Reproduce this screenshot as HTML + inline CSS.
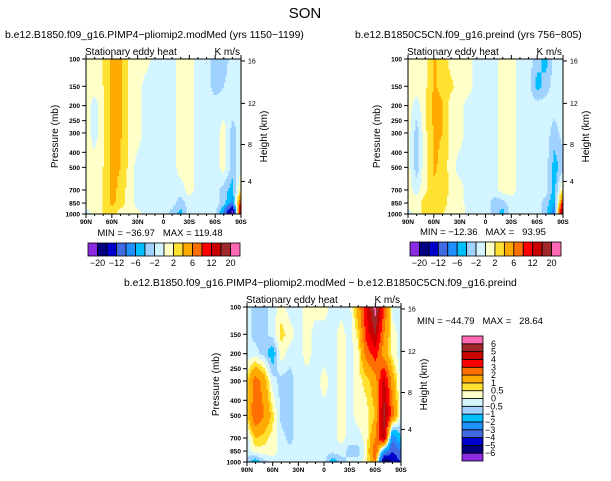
<!DOCTYPE html>
<html><head><meta charset="utf-8">
<style>
html,body{margin:0;padding:0;background:#fff;}
svg{display:block;font-family:"Liberation Sans",sans-serif;}
</style></head>
<body>
<svg id="fig" width="611" height="481" viewBox="0 0 611 481" xmlns="http://www.w3.org/2000/svg">
<rect width="611" height="481" fill="#fff"/>
<text x="305" y="18" text-anchor="middle" font-size="15">SON</text>
</svg>
<script>
// ---- data ----
const lats = [90,80,70,60,50,40,30,20,10,0,-10,-20,-30,-40,-50,-60,-70,-80,-90];
const levels = [100,150,200,300,500,700,850,1000];
const pTicks = [100,150,200,250,300,400,500,700,850,1000];
const hTicks = [4,8,12,16];
const latTicks = [90,60,30,0,-30,-60,-90];
const latTickLabels = ["90N","60N","30N","0","30S","60S","90S"];
const bounds1 = [-20,-16,-12,-8,-6,-4,-2,0,2,4,6,8,12,16,20];
const boundLabels1 = ["-20","","-12","","-6","","-2","","2","","6","","12","","20"];
const bounds2 = [-6,-5,-4,-3,-2,-1,-0.5,0,0.5,1,2,3,4,5,6];
const boundLabels2 = ["-6","-5","-4","-3","-2","-1","-0.5","0","0.5","1","2","3","4","5","6"];
const colors = ["#8a2be2","#000080","#0000cd","#4169e1","#1e90ff","#00bfff","#a0d2ff","#d2f5ff","#ffffc8","#ffe132","#ffaa00","#ff6e00","#ff0000","#c80000","#a02828","#ff69b4"];
const fieldA = [
 [1,1,2,4.6,4.3,1.5,1,1,-1,-1,-1,1,1,-1,-1,-3,-3,-1,-1],
 [1,1,2,4.6,4.3,1.5,1,-1,-1,-1,-1,1,1,-1,-1,-3,-2,-1,-1],
 [1,-1,1.5,4.6,4.3,1.5,1,-1,-1,-1,-1,1,1,-1,-1,-1,-1,-1,-1],
 [1,-1,1.5,4.6,4.3,1.5,1,-1,-1,-1,-1,1,1,-1,-1,-1,1,-3,-1],
 [1,1,2,4.6,4,1.5,-1,-1,-1,-1,-1,1,1,-1,-1,-1,1,-3,-1],
 [1,1,2,4.6,3.5,1,-1,-1,-1,-1,-1,-1,1,-1,-1,-1,-3,-5,3],
 [1,1,2,4.6,3,1,-1,-1,-1,-1,-1,-3,-1,-1,-1,-1,-3,-7,10],
 [-1,1,2,3,1,2,1,-1,-1,-1,-3,-5,-1,-1,-1,-1,-8,-25,20]];
const fieldB = [
 [1,1,1.5,4.3,3.5,1,1,1,-1,-1,-1,1,1,-1,-1,-3,-5,-1,-1],
 [1,1,1.5,4.3,3.5,2.5,1,1,-1,-1,-1,1,1,-1,-1,-5,-3,-1,-1],
 [1,-1,1.5,4.5,4.2,1,1,-1,-1,-1,-1,1,1,-1,-1,-1,-1,-1,-1],
 [1,-3,1.5,4.3,4,1,1,-1,-1,-1,-1,1,1,-1,-1,-1,-1,-3,-1],
 [1,-3,1.5,4.3,3.5,1,-1,-1,-1,-1,-1,1,1,-1,-1,-1,-1,-5,-3],
 [1,-1,1.5,3.5,4,1,1,-1,-1,-1,-1,1,1,-1,-1,-1,-1,-5,3],
 [1,1,3,4,3,1,1,-1,-1,-1,-3,-3,-1,-1,-1,-1,-3,-6,10],
 [-1,1,3,4,2,1,2,-1,-1,-1,-3,-5,-1,-1,-1,-1,-3,-8,20]];
const fieldD = [
 [-0.3,-0.7,-0.7,-0.3,0.3,-0.3,-0.3,0.3,0.3,0.3,-0.3,-0.3,-0.3,1.5,4,6.5,3,-0.3,-0.3],
 [-0.3,-0.7,-0.7,-0.3,0.7,0.3,-0.3,0.3,-0.3,-0.3,-0.3,0.3,-0.3,0.7,3.5,5,2,0.3,-0.3],
 [-0.3,-0.3,-0.7,-1.5,0.3,-0.3,-0.3,0.3,-0.3,-0.3,-0.3,0.3,-0.3,0.3,2.5,3.5,1.5,0.3,-0.3],
 [0.7,2.5,1.5,-0.3,-0.7,-0.7,-0.3,-0.3,-0.3,0.3,-0.3,0.3,-0.3,0.3,0.7,1.5,4.5,1.5,-0.3],
 [0.7,3,2,0.7,-0.7,-0.7,-0.3,-0.3,-0.3,-0.3,-0.3,0.3,-0.3,0.3,0.3,1,5.5,2.5,-0.3],
 [-0.3,1,0.7,0.3,-0.3,-0.7,-0.3,-0.3,-0.3,-0.3,-0.3,0.3,-0.3,-0.3,0.3,2,5,-3,-1],
 [-0.3,0.3,0.3,0.3,-0.3,-0.3,-0.3,-0.3,-0.3,-0.3,-0.3,-0.3,-0.7,-0.7,0.3,3,-2,-4,-3],
 [-0.7,-1.5,-0.7,-0.3,-0.3,-0.3,-0.3,-0.3,-0.3,-0.3,-1.5,-0.7,-0.3,-0.3,0.3,2,-6.5,-5,-4]];

const NS="http://www.w3.org/2000/svg";
const svg=document.getElementById('fig');
function mk(tag,attrs,parent){const e=document.createElementNS(NS,tag);for(const k in attrs)e.setAttribute(k,attrs[k]);(parent||svg).appendChild(e);return e;}
function txt(x,y,s,size,anchor,parent){const t=mk('text',{x:x,y:y,'font-size':size,'text-anchor':anchor||'start'},parent);t.textContent=s;t.setAttribute('xml:space','preserve');t.style.whiteSpace='pre';return t;}
function colorFor(v,b){let i=0;while(i<b.length&&v>=b[i])i++;return colors[i];}
function zToP(z){const m=z*1000;return m<=11000?1013.25*Math.pow(1-2.25577e-5*m,5.25588):226.32*Math.exp(-(m-11000)/6341.6);}

function panel(name,X,Y,W,H,field,bounds,title,titleX){
  const g=mk('g',{});
  
  
  const xOf=lat=>X+(90-lat)/180*W;
  const yOf=p=>Y+Math.log10(p/100)*H;
  const latOf=x=>90-(x-X)/W*180;
  const pOf=y=>100*Math.pow(10,(y-Y)/H);
  function val(lat,p){
    let i=Math.min(lats.length-2,Math.max(0,Math.floor((90-lat)/10)));
    let fx=Math.max(0,Math.min(1,((90-lat)-i*10)/10));
    const lp=Math.log(p);let j=0;
    while(j<levels.length-2&&Math.log(levels[j+1])<lp)j++;
    let fy=(lp-Math.log(levels[j]))/(Math.log(levels[j+1])-Math.log(levels[j]));
    fy=Math.max(0,Math.min(1,fy));
    const a=field[j][i],b=field[j][i+1],c=field[j+1][i],d=field[j+1][i+1];
    return (a*(1-fx)+b*fx)*(1-fy)+(c*(1-fx)+d*fx)*fy;
  }
  const st=1.5;
  const cg=mk('g',{'shape-rendering':'crispEdges'},g);
  
  
  for(let y=Y;y<Y+H-0.01;y+=st){
    let runStart=X,runCol=null;
    const hh=Math.min(st,Y+H-y);
    for(let x=X;x<X+W;x+=st){
      const c=colorFor(val(latOf(Math.min(x+st/2,X+W)),pOf(y+hh/2)),bounds);
      if(c!==runCol){
        if(runCol){mk('rect',{x:runStart,y:y,width:x-runStart+0.3,height:hh+0.3,fill:runCol},cg);}
        runStart=x;runCol=c;
      }
    }
    if(runCol){mk('rect',{x:runStart,y:y,width:X+W-runStart,height:hh+0.3,fill:runCol},cg);}
  }
  mk('rect',{x:X,y:Y,width:W,height:H,fill:'none',stroke:'#000','stroke-width':1},g);
  pTicks.forEach(p=>{const y=yOf(p);mk('line',{x1:X-4,y1:y,x2:X,y2:y,stroke:'#000'},g);
    const t=txt(X-6,y+2.5,String(p),6.5,'end',g);t.setAttribute('font-weight','bold');});
  hTicks.forEach(z=>{const y=yOf(zToP(z));mk('line',{x1:X+W,y1:y,x2:X+W+4,y2:y,stroke:'#000'},g);
    txt(X+W+7,y+2.5,String(z),7,'start',g);});
  for(let l=90;l>=-90;l-=10){const x=xOf(l);const L=(l%30===0)?4:2;
    mk('line',{x1:x,y1:Y+H,x2:x,y2:Y+H+L,stroke:'#000'},g);
    mk('line',{x1:x,y1:Y,x2:x,y2:Y-L,stroke:'#000'},g);}
  latTicks.forEach((l,i)=>{const t=txt(xOf(l),Y+H+10,latTickLabels[i],6.5,'middle',g);t.setAttribute('font-weight','bold');});
  const yl=txt(0,0,'Pressure (mb)',10,'middle',g);yl.setAttribute('transform',`translate(${X-28},${Y+H/2}) rotate(-90)`);
  
  const hl=txt(0,0,'Height (km)',10,'middle',g);hl.setAttribute('transform',`translate(${X+W+26},${Y+H/2}) rotate(-90)`);
  
  const s1=txt(X-1,Y-4,'Stationary eddy heat',10,'start',g);
  
  const s2=txt(X+W-1,Y-4,'K m/s',10,'end',g);
  
  const tt=txt(titleX,Y-21,title,10.4,'start',g);
  
}

function hbar(name,X,Y,W,H,bounds,labels,minmax,mx){
  const g=mk('g',{});
  
  
  const n=colors.length,bw=W/n;
  colors.forEach((c,i)=>{const r=mk('rect',{x:X+i*bw,y:Y,width:bw,height:H,fill:c,stroke:'#000','stroke-width':0.8},g);
    });
  labels.forEach((s,i)=>{if(s)txt(X+(i+1)*bw,Y+H+10,s.replace('-','\u2212'),9,'middle',g);});
  const m=txt(mx,Y-7,minmax,9.5,'middle',g);
  
}
function vbar(name,X,Y,W,H,bounds,labels){
  const g=mk('g',{});
  
  
  const n=colors.length,bh=H/n;
  colors.forEach((c,i)=>{const r=mk('rect',{x:X,y:Y+H-(i+1)*bh,width:W,height:bh,fill:c,stroke:'#000','stroke-width':0.8},g);
    });
  labels.forEach((s,i)=>{txt(X+W+(s.startsWith('-')?2:8),Y+H-(i+1)*bh+3,s.replace('-','\u2212'),9,'start',g);});
}

panel('panel-pliomip',86,59,155,155,fieldA,bounds1,'b.e12.B1850.f09_g16.PIMP4\u2212pliomip2.modMed (yrs 1150\u22121199)',5);
panel('panel-preind',408,59,155,155,fieldB,bounds1,'b.e12.B1850C5CN.f09_g16.preind (yrs 756\u2212805)',355);
panel('panel-difference',247,307,154,155,fieldD,bounds2,'b.e12.B1850.f09_g16.PIMP4\u2212pliomip2.modMed \u2212 b.e12.B1850C5CN.f09_g16.preind',124);
hbar('colorbar-pliomip',88,243,152,13,bounds1,boundLabels1,'MIN = \u221236.97   MAX = 119.48',160);
hbar('colorbar-preind',410,242,151,14,bounds1,boundLabels1,'MIN = \u221212.36   MAX =   93.95',483);
vbar('colorbar-difference',462,336,21,125,bounds2,boundLabels2);
const mm=txt(480,324,'MIN = \u221244.79   MAX =   28.64',9.5,'middle');


</script>
</body></html>
